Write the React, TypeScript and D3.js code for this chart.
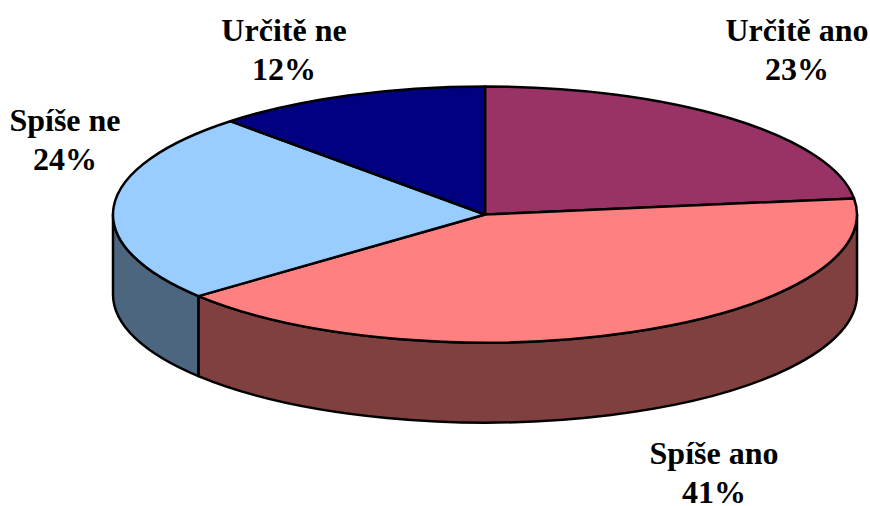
import React from "react";
import * as d3 from "d3";

const categories = ["Určitě ano", "Spíše ano", "Spíše ne", "Určitě ne"];
const values = [23, 41, 24, 12];
const percentLabels = ["23%", "41%", "24%", "12%"];
const topColors = ["#993366", "#FF8080", "#99CCFF", "#000080"];
const wallColors = ["#4D1A33", "#804040", "#4D6680", "#000040"];
const labelCentersX = [797, 714, 65, 284];
const labelBaselinesY = [41, 464, 131, 41];

const W = 870, H = 506;
const cx = 485, cy = 214.5, rx = 372, ry = 128, depth = 80;
const unitX = d3.scaleLinear().domain([-1, 1]).range([cx - rx, cx + rx]);
const unitY = d3.scaleLinear().domain([-1, 1]).range([cy - ry, cy + ry]);
const px = (a: number) => unitX(Math.sin(a));
const py = (a: number) => unitY(-Math.cos(a));

const arcs = d3.pie<number>().sort(null).value((d) => d)(values);
const toRad = (deg: number) => (deg * Math.PI) / 180;

function topPath(a0: number, a1: number) {
  const large = a1 - a0 > Math.PI ? 1 : 0;
  return `M${cx},${cy}L${px(a0)},${py(a0)}A${rx},${ry} 0 ${large} 1 ${px(a1)},${py(a1)}Z`;
}
function wallPath(a0: number, a1: number) {
  const s = Math.max(a0, toRad(90));
  const e = Math.min(a1, toRad(270));
  if (e <= s) return null;
  return `M${px(s)},${py(s)}A${rx},${ry} 0 0 1 ${px(e)},${py(e)}L${px(e)},${py(e) + depth}A${rx},${ry} 0 0 0 ${px(s)},${py(s) + depth}Z`;
}

export default function App() {
  return (
    <svg width={W} height={H} viewBox={`0 0 ${W} ${H}`}
      style={{ position: "absolute", left: 0, top: 0, background: "#fff" }}>
      {arcs.map((a, i) => {
        const d = wallPath(a.startAngle, a.endAngle);
        return d ? <path key={i} d={d} fill={wallColors[i]} stroke="#000" strokeWidth={2.5} strokeLinejoin="round" /> : null;
      })}
      {arcs.map((a, i) => (
        <path key={i} d={topPath(a.startAngle, a.endAngle)} fill={topColors[i]} stroke="#000" strokeWidth={2.5} strokeLinejoin="round" />
      ))}
      {categories.map((c, i) => (
        <text key={c} textAnchor="middle" fontFamily="'Liberation Serif', serif" fontWeight="bold" fontSize={32} fill="#000">
          <tspan x={labelCentersX[i]} y={labelBaselinesY[i]}>{c}</tspan>
          <tspan x={labelCentersX[i]} dy={39}>{percentLabels[i]}</tspan>
        </text>
      ))}
    </svg>
  );
}
